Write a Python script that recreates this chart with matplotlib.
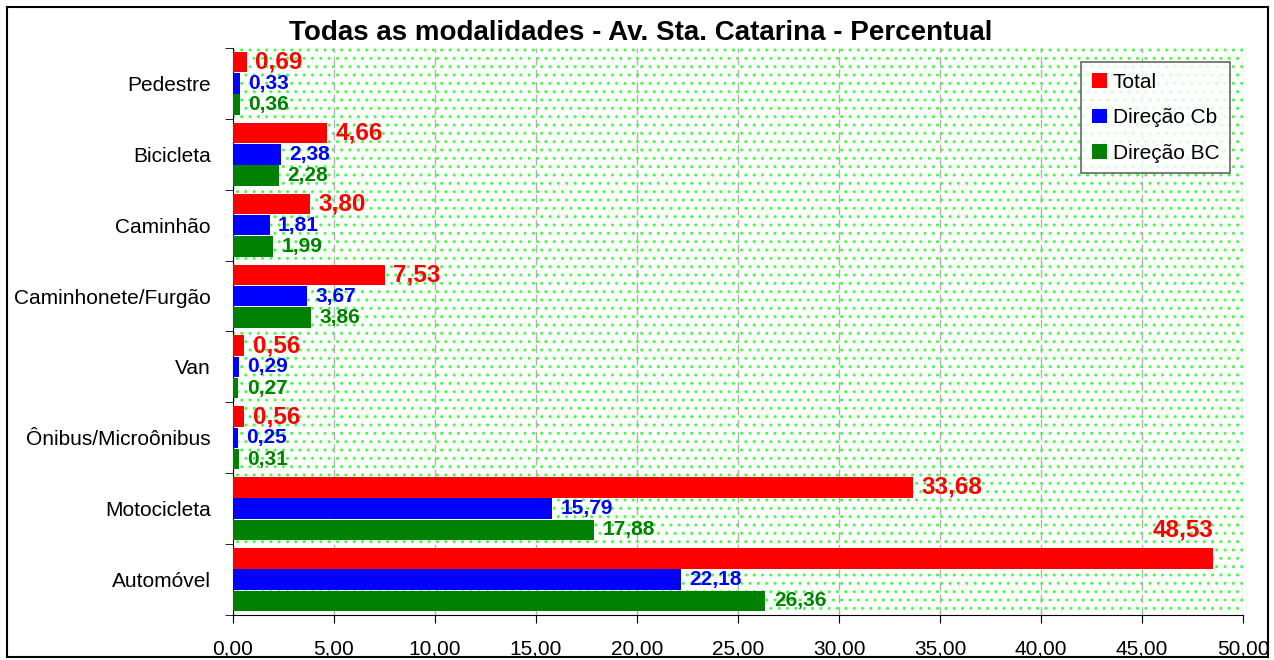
import matplotlib
matplotlib.use("Agg")
import matplotlib.pyplot as plt
from matplotlib.patches import Rectangle
from matplotlib.ticker import FuncFormatter, FixedLocator
import numpy as np

plt.rcParams['font.family'] = ['Liberation Sans', 'DejaVu Sans']

categories = ["Automóvel", "Motocicleta", "Ônibus/Microônibus", "Van",
              "Caminhonete/Furgão", "Caminhão", "Bicicleta", "Pedestre"]
total = [48.53, 33.68, 0.56, 0.56, 7.53, 3.80, 4.66, 0.69]
dir_cb = [22.18, 15.79, 0.25, 0.29, 3.67, 1.81, 2.38, 0.33]
dir_bc = [26.36, 17.88, 0.31, 0.27, 3.86, 1.99, 2.28, 0.36]
series_names = ["Total", "Direção Cb", "Direção BC"]
colors = ["#FF0000", "#0000FF", "#008000"]
title = "Todas as modalidades - Av. Sta. Catarina - Percentual"

fig = plt.figure(figsize=(12.74, 6.6), dpi=100)
fig.patches.append(Rectangle((7/1274, 3/660), 1261/1274, 650/660, transform=fig.transFigure,
                             fill=False, edgecolor='black', linewidth=1.5))
ax = fig.add_axes([233/1274, 1 - 615/660, 1010/1274, (615 - 48)/660])

bg = Rectangle((0, 0), 1, 1, transform=ax.transAxes, facecolor='white',
               edgecolor='#44FF44', hatch='..', linewidth=0, zorder=0)
ax.add_patch(bg)
ax.set_facecolor('white')

y = np.arange(len(categories))
h = 0.29
offs = [0.3, 0.0, -0.3]
sizes = [17.5, 15, 15]
data = [total, dir_cb, dir_bc]
xmax = 50
for vals, off, col, name, fs in zip(data, offs, colors, series_names, sizes):
    ax.barh(y + off, vals, height=h, color=col, label=name, zorder=3)
    for yy, v in zip(y + off, vals):
        txt = f"{v:.2f}".replace('.', ',')
        if v > xmax * 0.93:
            ax.text(v, yy + 0.4, txt, ha='right', va='center', color=col,
                    fontsize=fs, fontweight='bold', zorder=4)
        else:
            ax.annotate(txt, (v, yy), xytext=(6, 0), textcoords='offset points',
                        ha='left', va='center', color=col, fontsize=fs,
                        fontweight='bold', zorder=4)

ax.set_xlim(0, 50)
ax.set_ylim(-0.5, len(categories) - 0.5)
ax.set_xticks(np.arange(0, 51, 5))
ax.xaxis.set_major_formatter(FuncFormatter(lambda v, p: f"{v:.2f}".replace('.', ',')))
ax.tick_params(axis='x', labelsize=15, length=5.5, direction='out', pad=12)
ax.set_yticks(y)
ax.set_yticklabels(categories)
ax.tick_params(axis='y', which='major', length=0, labelsize=15, pad=16)
ax.yaxis.set_minor_locator(FixedLocator(np.arange(-0.5, len(categories), 1)))
ax.tick_params(axis='y', which='minor', length=6, direction='out')

ax.grid(axis='x', color='#B0B0B0', linestyle=(0, (6, 3)), linewidth=1, zorder=1)
ax.set_axisbelow(True)
for s in ['top', 'right']:
    ax.spines[s].set_visible(False)

leg = ax.legend(loc='upper right', bbox_to_anchor=(0.987, 0.975), borderaxespad=0,
                fontsize=15, frameon=True, fancybox=False, edgecolor='#404040',
                handlelength=0.72, handleheight=0.72, labelspacing=0.8,
                borderpad=0.5, handletextpad=0.3)
leg.get_frame().set_linewidth(1.2)

fig.text(0.503, 1 - 33/660, title, ha='center', va='center', fontsize=20,
         fontweight='bold')

fig.savefig("out.png", dpi=100)
